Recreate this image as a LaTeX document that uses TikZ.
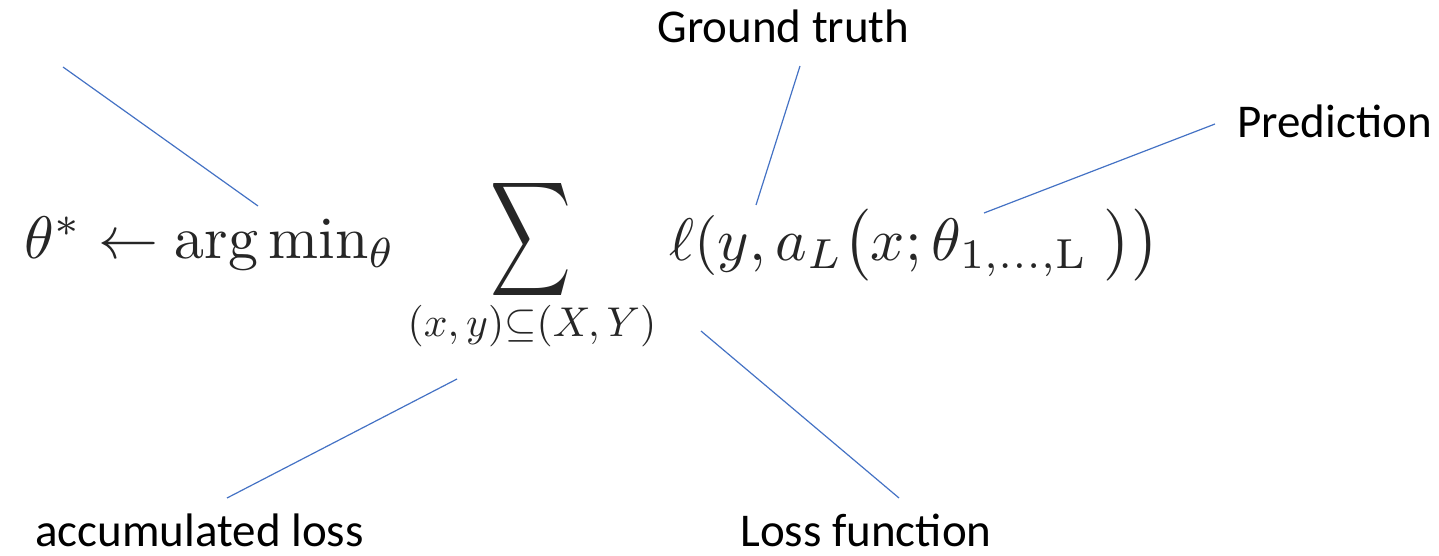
\documentclass[tikz,border=0pt]{standalone}
\usepackage{fontspec}
\newfontfamily\labelfont{Carlito}
\definecolor{lineblue}{RGB}{68,114,196}
\colorlet{mathgray}{black!85}
\tikzset{
  callout/.style={lineblue, line width=0.6pt},
  tag/.style={font=\labelfont\fontsize{23.5}{28}\selectfont, inner sep=0pt, anchor=base west},
  formula/.style={inner sep=0pt, text=mathgray}
}
\begin{document}
\begin{tikzpicture}[x=0.5pt, y=-0.5pt]
  \useasboundingbox (0,0) rectangle (1439,556);

  % formula
  \node[formula, anchor=base west, scale=3.0] (lhs) at (23,258)
       {$\theta^* \leftarrow \arg\min_{\theta}$};
  \node[formula, xscale=2.8, yscale=4.0] (sum) at (531,240)
       {$\displaystyle\sum$};
  \node[formula, scale=2.08] (sub) at (532,326)
       {$(x,y){\subseteq}(X,Y)$};
  \node[formula, anchor=base west, scale=3.0] (rhs) at (668,260)
       {$\ell(y, a_L\bigl(x; \theta_{1,\ldots,\mathrm{L}}\;\bigr)\bigr)$};

  % labels
  \node[tag] (truth) at (657,43) {Ground truth};
  \node[tag] (pred) at (1237,138) {Prediction};
  \node[tag] (accum) at (35,546) {accumulated loss};
  \node[tag] (lossfn) at (740,546) {Loss function};

  % line ends
  \coordinate (theta-a) at (63,67);
  \coordinate (theta-b) at (258,206);
  \coordinate (truth-a) at (800,66);
  \coordinate (truth-b) at (756,205);
  \coordinate (pred-a) at (1215,124);
  \coordinate (pred-b) at (984,213);
  \coordinate (accum-a) at (227,498);
  \coordinate (accum-b) at (457,379);
  \coordinate (lossfn-a) at (899,498);
  \coordinate (lossfn-b) at (701,331);

  % callout lines
  \draw[callout] (theta-a) -- (theta-b);
  \draw[callout] (truth-a) -- (truth-b);
  \draw[callout] (pred-a) -- (pred-b);
  \draw[callout] (accum-a) -- (accum-b);
  \draw[callout] (lossfn-a) -- (lossfn-b);

\end{tikzpicture}
\end{document}
